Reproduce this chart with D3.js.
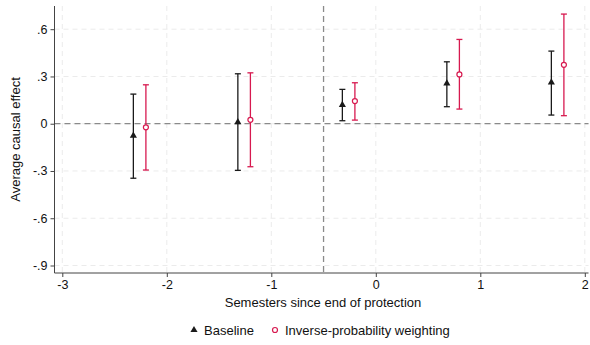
<!DOCTYPE html>
<html>
<head>
<meta charset="utf-8">
<script src="https://cdn.jsdelivr.net/npm/d3@7"></script>
<style>
body { margin: 0; background: #fff; }
svg { font-family: "Liberation Sans", Arial, sans-serif; }
</style>
</head>
<body>
<div id="chart"></div>
<script>
// semesters since end of protection (markers offset around each semester)
var baseX = [-2.32, -1.32, -0.32, 0.68, 1.68];
var baseEst = [-0.076, 0.01, 0.119, 0.256, 0.262];
var baseLo = [-0.346, -0.296, 0.019, 0.108, 0.055];
var baseHi = [0.188, 0.317, 0.218, 0.393, 0.461];

var ipwX = [-2.2, -1.2, -0.2, 0.8, 1.8];
var ipwEst = [-0.023, 0.025, 0.144, 0.313, 0.374];
var ipwLo = [-0.294, -0.273, 0.023, 0.093, 0.051];
var ipwHi = [0.247, 0.323, 0.26, 0.535, 0.696];

var xTicks = [-3, -2, -1, 0, 1, 2];
var yTicks = [0.6, 0.3, 0, -0.3, -0.6, -0.9];
var yLabels = [".6", ".3", "0", "-.3", "-.6", "-.9"];

var width = 590, height = 345;
var padL = 54.5, padR = 588.5, padT = 6, padB = 273;

var svg = d3.select("#chart").append("svg")
    .attr("width", width)
    .attr("height", height);

var x = d3.scaleLinear().domain([-3, 2]).range([62.3, 584.8]);
var y = d3.scaleLinear().domain([-0.9, 0.6]).range([265.5, 29.2]);

// grid
svg.append("g").selectAll("line")
    .data(yTicks).enter().append("line")
    .attr("x1", padL).attr("x2", padR)
    .attr("y1", function(d){ return y(d); })
    .attr("y2", function(d){ return y(d); })
    .attr("stroke", "#ebebeb").attr("stroke-width", 1)
    .attr("stroke-dasharray", "5,4");

svg.append("g").selectAll("line")
    .data(xTicks).enter().append("line")
    .attr("x1", function(d){ return x(d); })
    .attr("x2", function(d){ return x(d); })
    .attr("y1", padT).attr("y2", padB)
    .attr("stroke", "#ebebeb").attr("stroke-width", 1)
    .attr("stroke-dasharray", "5,4");

// reference lines
svg.append("line")
    .attr("x1", padL).attr("x2", padR)
    .attr("y1", y(0)).attr("y2", y(0))
    .attr("stroke", "#8a8a8a").attr("stroke-width", 1.3)
    .attr("stroke-dasharray", "6,4");
svg.append("line")
    .attr("x1", x(-0.5)).attr("x2", x(-0.5))
    .attr("y1", padT).attr("y2", padB)
    .attr("stroke", "#8a8a8a").attr("stroke-width", 1.3)
    .attr("stroke-dasharray", "6,4");

// axes
var x_axis = d3.axisBottom(x).tickValues(xTicks).tickSize(4)
    .tickFormat(function(d){ return String(d); });
var y_axis = d3.axisLeft(y).tickValues(yTicks).tickSize(4)
    .tickFormat(function(d, i){ return yLabels[i]; });

var gx = svg.append("g").attr("transform", "translate(0," + padB + ")").call(x_axis);
gx.select(".domain").attr("d", "M" + padL + ",0H" + padR).attr("stroke", "#444");
gx.selectAll(".tick line").attr("stroke", "#444");
gx.selectAll(".tick text").attr("font-size", "12.5px").attr("fill", "#111").attr("y", 7);

var gy = svg.append("g").attr("transform", "translate(" + padL + ",0)").call(y_axis);
gy.select(".domain").attr("d", "M0," + padT + "V" + padB).attr("stroke", "#444");
gy.selectAll(".tick line").attr("stroke", "#444");
gy.selectAll(".tick text").attr("font-size", "12.5px").attr("fill", "#111").attr("x", -7);

// titles
svg.append("text")
    .attr("x", 323).attr("y", 307)
    .attr("text-anchor", "middle")
    .attr("font-size", "13px").attr("fill", "#111")
    .text("Semesters since end of protection");
svg.append("text")
    .attr("transform", "translate(20," + ((padT + padB) / 2) + ") rotate(-90)")
    .attr("text-anchor", "middle")
    .attr("font-size", "13px").attr("fill", "#111")
    .text("Average causal effect");

// series
var baseColor = "#1a1a1a", ipwColor = "#d7194f";
var tri = d3.symbol().type(d3.symbolTriangle).size(22);

function drawSeries(xs, est, lo, hi, color, marker) {
    var g = svg.append("g");
    var rows = xs.map(function(v, i){ return {x: v, e: est[i], lo: lo[i], hi: hi[i]}; });
    g.selectAll(".bar").data(rows).enter().append("line")
        .attr("x1", function(d){ return x(d.x); })
        .attr("x2", function(d){ return x(d.x); })
        .attr("y1", function(d){ return y(d.lo); })
        .attr("y2", function(d){ return y(d.hi); })
        .attr("stroke", color).attr("stroke-width", 1.3);
    ["lo", "hi"].forEach(function(k){
        g.selectAll(".cap" + k).data(rows).enter().append("line")
            .attr("x1", function(d){ return x(d.x) - 3; })
            .attr("x2", function(d){ return x(d.x) + 3; })
            .attr("y1", function(d){ return y(d[k]); })
            .attr("y2", function(d){ return y(d[k]); })
            .attr("stroke", color).attr("stroke-width", 1.3);
    });
    if (marker == "tri") {
        g.selectAll(".pt").data(rows).enter().append("path")
            .attr("d", tri)
            .attr("transform", function(d){ return "translate(" + x(d.x) + "," + y(d.e) + ")"; })
            .attr("fill", color);
    } else {
        g.selectAll(".pt").data(rows).enter().append("circle")
            .attr("cx", function(d){ return x(d.x); })
            .attr("cy", function(d){ return y(d.e); })
            .attr("r", 2.5)
            .attr("fill", "white").attr("stroke", color).attr("stroke-width", 1.2);
    }
}

drawSeries(baseX, baseEst, baseLo, baseHi, baseColor, "tri");
drawSeries(ipwX, ipwEst, ipwLo, ipwHi, ipwColor, "circle");

// legend
svg.append("path").attr("d", tri)
    .attr("transform", "translate(194,330)").attr("fill", baseColor);
svg.append("text").attr("x", 204).attr("y", 334.5)
    .attr("font-size", "13px").attr("fill", "#111").text("Baseline");
svg.append("circle").attr("cx", 275).attr("cy", 330).attr("r", 2.5)
    .attr("fill", "white").attr("stroke", ipwColor).attr("stroke-width", 1.2);
svg.append("text").attr("x", 285).attr("y", 334.5)
    .attr("font-size", "13px").attr("fill", "#111").text("Inverse-probability weighting");
</script>
</body>
</html>
